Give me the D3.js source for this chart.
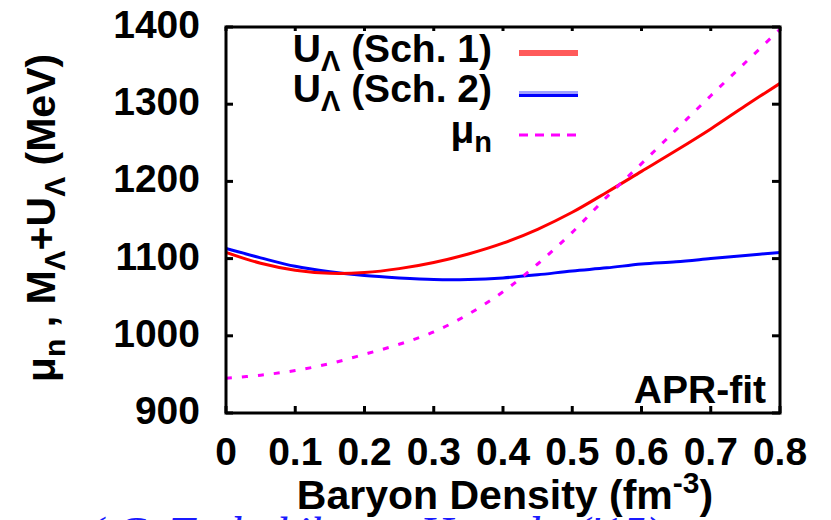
<!DOCTYPE html>
<html><head><meta charset="utf-8">
<script src="https://cdn.jsdelivr.net/npm/d3@7"></script>
<style>
body{margin:0;background:#fff}
svg{display:block}
text{font-family:"Liberation Sans",Arial,sans-serif;font-weight:bold;fill:#000}
</style>
</head><body>
<svg id="c" width="831" height="520"></svg>
<script>
// ---- data ----
const density = [0,0.05,0.1,0.15,0.2,0.25,0.3,0.35,0.4,0.45,0.5,0.55,0.6,0.65,0.7,0.75,0.8];
const uLambdaSch1 = [1108,1094,1085,1081,1082,1087,1095,1106,1120,1138,1160,1186,1213,1240,1268,1298,1327];
const uLambdaSch2 = [1113,1101,1090,1083,1078,1075,1073,1073,1075,1079,1084,1088,1093,1096,1100,1104,1108];
const muN        = [945,949,955,964,976,989,1005,1028,1057,1093,1134,1180,1223,1267,1311,1354,1397];
const xTicks = [0,0.1,0.2,0.3,0.4,0.5,0.6,0.7,0.8];
const xTickLabels = ["0","0.1","0.2","0.3","0.4","0.5","0.6","0.7","0.8"];
const yTicks = [900,1000,1100,1200,1300,1400];
const yTickLabels = ["900","1000","1100","1200","1300","1400"];
const seriesColors = ["#ff0000","#0000ff","#ff00ff"];

const svg = d3.select("#c");
const L = 226, R = 780, T = 27, B = 413;
const x = d3.scaleLinear().domain([0,0.8]).range([L,R]);
const y = d3.scaleLinear().domain([900,1400]).range([B,T]);
const FS = 39;

// clip
svg.append("clipPath").attr("id","clip").append("rect")
  .attr("x",L).attr("y",T).attr("width",R-L).attr("height",B-T);

// ticks (inside) on all four sides
const tk = svg.append("g").attr("stroke","#000").attr("stroke-width",3);
xTicks.forEach(v=>{
  tk.append("line").attr("x1",x(v)).attr("x2",x(v)).attr("y1",B).attr("y2",B-7);
  tk.append("line").attr("x1",x(v)).attr("x2",x(v)).attr("y1",T).attr("y2",T+4);
});
yTicks.forEach(v=>{
  tk.append("line").attr("x1",L).attr("x2",L+7).attr("y1",y(v)).attr("y2",y(v));
  tk.append("line").attr("x1",R).attr("x2",R-8).attr("y1",y(v)).attr("y2",y(v));
});

// tick labels
svg.append("g").selectAll("text").data(yTicks).join("text")
  .attr("x",200).attr("y",d=>y(d)+11).attr("text-anchor","end")
  .style("font-size",FS+"px").text((d,i)=>yTickLabels[i]);
svg.append("g").selectAll("text").data(xTicks).join("text")
  .attr("x",d=>x(d)).attr("y",465).attr("text-anchor","middle")
  .style("font-size",FS+"px").text((d,i)=>xTickLabels[i]);

// curves
const pts = vals => density.map((d,i)=>[d,vals[i]]);
const line = d3.line().x(d=>x(d[0])).y(d=>y(d[1])).curve(d3.curveCatmullRom.alpha(0.5));
const g = svg.append("g").attr("clip-path","url(#clip)");
g.append("path").attr("d",line(pts(uLambdaSch2))).attr("fill","none")
  .attr("stroke",seriesColors[1]).attr("stroke-width",3);
g.append("path").attr("d",line(pts(uLambdaSch1))).attr("fill","none")
  .attr("stroke",seriesColors[0]).attr("stroke-width",3);
g.append("path").attr("d",line(pts(muN))).attr("fill","none")
  .attr("stroke",seriesColors[2]).attr("stroke-width",3).attr("stroke-dasharray","6,10");

// frame
svg.append("rect").attr("x",L).attr("y",T).attr("width",R-L).attr("height",B-T)
  .attr("fill","none").attr("stroke","#000").attr("stroke-width",3);

// legend
const lg = svg.append("g");
function legText(yb, parts){
  const t = lg.append("text").attr("x",492).attr("y",yb).attr("text-anchor","end").style("font-size",FS+"px");
  parts.forEach(p=>{
    const s = t.append("tspan").text(p.t);
    if(p.sub){ s.style("font-size","29px").attr("dy",9); }
    else if(p.back){ s.attr("dy",-9); }
  });
}
legText(62,[{t:"U"},{t:"Λ",sub:true},{t:" (Sch. 1)",back:true}]);
legText(102,[{t:"U"},{t:"Λ",sub:true},{t:" (Sch. 2)",back:true}]);
legText(143,[{t:"μ"},{t:"n",sub:true}]);
lg.append("line").attr("x1",519).attr("x2",578).attr("y1",53).attr("y2",53)
  .attr("stroke","#ff5a5a").attr("stroke-width",6);
lg.append("line").attr("x1",519).attr("x2",578).attr("y1",92.5).attr("y2",92.5)
  .attr("stroke","#a0a0ff").attr("stroke-width",3);
lg.append("line").attr("x1",519).attr("x2",578).attr("y1",95.5).attr("y2",95.5)
  .attr("stroke",seriesColors[1]).attr("stroke-width",3);
lg.append("line").attr("x1",519).attr("x2",578).attr("y1",135).attr("y2",135)
  .attr("stroke",seriesColors[2]).attr("stroke-width",3).attr("stroke-dasharray","9,7");

// APR-fit label
svg.append("text").attr("x",766).attr("y",403).attr("text-anchor","end")
  .style("font-size",FS+"px").text("APR-fit");

// axis titles
const xt = svg.append("text").attr("x",505).attr("y",509).attr("text-anchor","middle").style("font-size","41px");
xt.append("tspan").text("Baryon Density (fm");
xt.append("tspan").text("-3").style("font-size","30px").attr("dy",-16);
xt.append("tspan").text(")").attr("dy",16);

const yt = svg.append("text").attr("transform","translate(55,218) rotate(-90)")
  .attr("text-anchor","middle").style("font-size","41px");
[{t:"μ"},{t:"n",sub:true},{t:" , M",back:true},{t:"Λ",sub:true},{t:"+U",back:true},{t:"Λ",sub:true},{t:" (MeV)",back:true}]
.forEach(p=>{
  const s = yt.append("tspan").text(p.t);
  if(p.sub){ s.style("font-size","30px").attr("dy",10); }
  else if(p.back){ s.attr("dy",-10); }
});

// cropped caption at the bottom edge
svg.append("text").attr("x",88).attr("y",549)
  .style("font-family","'Liberation Serif',serif").style("font-style","italic")
  .style("font-weight","normal").style("font-size","46px").style("fill","#1a1aff")
  .text("( C. Tsubakihara, Harada ('15)");
</script>
</body></html>
